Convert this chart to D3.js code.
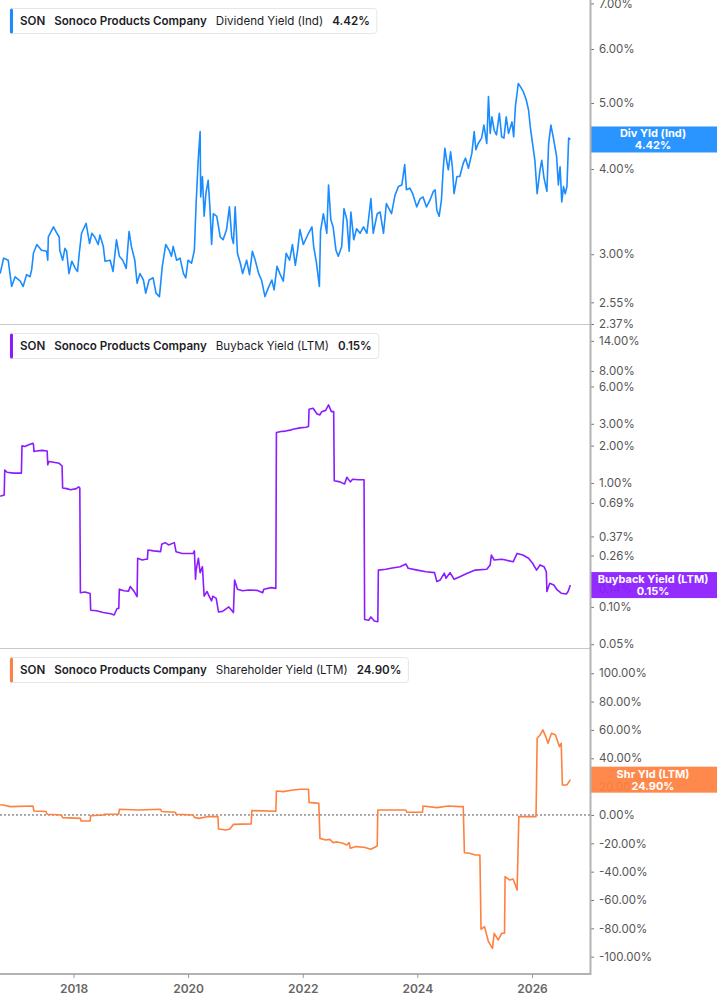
<!DOCTYPE html>
<html>
<head>
<meta charset="utf-8">
<script src="https://cdn.jsdelivr.net/npm/d3@7"></script>
<style>
  body { margin: 0; background: #fff; font-family: Inter, "Noto Sans", sans-serif; }
  svg { display: block; }
</style>
</head>
<body>
<svg id="chart" width="717" height="1005"></svg>
<script>
// values: [decimal year, percent]
const divYield = [
  [2016.72,2.81],[2016.78,2.96],[2016.86,2.94],[2016.92,2.69],[2016.98,2.78],[2017.07,2.74],[2017.12,2.69],
  [2017.18,2.80],[2017.24,2.78],[2017.27,2.85],[2017.30,3.01],[2017.36,3.10],[2017.44,3.04],[2017.53,3.03],
  [2017.55,2.94],[2017.56,3.18],[2017.65,3.29],[2017.71,3.22],[2017.75,3.18],[2017.76,3.04],[2017.81,2.94],
  [2017.85,3.06],[2017.88,3.03],[2017.92,2.81],[2017.97,2.93],[2018.03,2.86],[2018.07,2.83],[2018.10,3.01],
  [2018.14,3.22],[2018.22,3.33],[2018.28,3.11],[2018.32,3.22],[2018.37,3.18],[2018.43,3.10],[2018.46,3.20],
  [2018.52,3.08],[2018.55,2.93],[2018.64,2.94],[2018.69,2.83],[2018.75,3.15],[2018.80,2.98],[2018.86,2.94],
  [2018.92,2.86],[2018.97,3.24],[2019.01,3.08],[2019.07,2.94],[2019.11,2.72],[2019.16,2.81],[2019.22,2.75],
  [2019.26,2.63],[2019.32,2.75],[2019.39,2.77],[2019.44,2.63],[2019.50,2.60],[2019.55,2.88],[2019.61,3.10],
  [2019.67,3.04],[2019.71,2.98],[2019.74,3.08],[2019.80,2.94],[2019.86,2.96],[2019.92,2.81],[2019.96,2.77],
  [2020.00,2.94],[2020.06,2.91],[2020.11,3.04],[2020.14,3.56],[2020.18,4.17],[2020.21,4.54],[2020.22,3.64],
  [2020.25,3.90],[2020.28,3.41],[2020.31,3.68],[2020.35,3.85],[2020.38,3.52],[2020.41,3.10],[2020.44,3.44],
  [2020.50,3.41],[2020.56,3.18],[2020.61,3.15],[2020.67,3.26],[2020.72,3.52],[2020.76,3.18],[2020.79,3.11],
  [2020.82,3.52],[2020.86,3.01],[2020.91,2.91],[2020.95,2.81],[2021.02,2.94],[2021.07,2.80],[2021.12,3.03],
  [2021.17,2.94],[2021.23,2.81],[2021.28,2.75],[2021.34,2.60],[2021.40,2.68],[2021.46,2.75],[2021.50,2.66],
  [2021.55,2.88],[2021.60,2.81],[2021.66,2.74],[2021.71,3.01],[2021.77,2.94],[2021.82,3.10],[2021.87,2.89],
  [2021.91,3.04],[2021.95,3.26],[2022.01,3.10],[2022.10,3.22],[2022.16,3.29],[2022.19,3.08],[2022.24,2.91],
  [2022.29,2.69],[2022.31,3.24],[2022.36,3.44],[2022.42,3.22],[2022.45,3.79],[2022.49,3.37],[2022.53,3.29],
  [2022.58,3.04],[2022.62,2.98],[2022.68,3.08],[2022.72,3.50],[2022.77,3.37],[2022.81,3.03],[2022.84,3.46],
  [2022.89,3.15],[2022.94,3.27],[2023.00,3.22],[2023.06,3.29],[2023.12,3.22],[2023.19,3.62],[2023.23,3.22],
  [2023.30,3.44],[2023.35,3.46],[2023.41,3.22],[2023.46,3.56],[2023.55,3.44],[2023.61,3.66],[2023.67,3.77],
  [2023.73,3.79],[2023.78,4.06],[2023.81,3.73],[2023.87,3.75],[2023.92,3.68],[2023.99,3.52],[2024.05,3.62],
  [2024.10,3.64],[2024.16,3.52],[2024.22,3.60],[2024.28,3.71],[2024.31,3.73],[2024.34,3.48],[2024.38,3.41],
  [2024.42,3.60],[2024.45,3.99],[2024.48,4.29],[2024.51,4.12],[2024.54,3.99],[2024.58,4.24],[2024.61,4.03],
  [2024.64,3.68],[2024.69,3.90],[2024.74,3.90],[2024.80,4.08],[2024.84,4.15],[2024.89,4.01],[2024.95,4.22],
  [2024.99,4.54],[2025.02,4.27],[2025.06,4.36],[2025.12,4.44],[2025.16,4.64],[2025.21,4.36],[2025.24,5.11],
  [2025.27,4.51],[2025.30,4.77],[2025.34,4.56],[2025.38,4.49],[2025.43,4.83],[2025.47,4.46],[2025.51,4.44],
  [2025.55,4.77],[2025.59,4.51],[2025.65,4.69],[2025.68,4.46],[2025.71,4.94],[2025.76,5.34],[2025.80,5.28],
  [2025.85,5.19],[2025.90,5.05],[2025.94,4.88],[2025.97,4.61],[2026.01,4.36],[2026.05,4.12],[2026.09,3.68],
  [2026.14,3.99],[2026.17,4.12],[2026.21,3.88],[2026.26,3.71],[2026.29,4.36],[2026.33,4.64],[2026.37,4.46],
  [2026.40,4.31],[2026.43,4.17],[2026.46,3.79],[2026.49,4.03],[2026.52,3.58],[2026.55,3.77],[2026.58,3.68],
  [2026.61,3.77],[2026.64,4.44],[2026.67,4.42]
];

const buybackYield = [
  [2016.72,0.78],[2016.79,0.80],[2016.80,1.27],[2016.84,1.22],[2016.95,1.20],[2017.09,1.20],[2017.10,1.99],
  [2017.15,1.97],[2017.22,2.03],[2017.29,2.09],[2017.30,2.05],[2017.31,1.79],[2017.35,1.81],[2017.45,1.83],
  [2017.54,1.81],[2017.55,1.40],[2017.57,1.49],[2017.65,1.47],[2017.75,1.44],[2017.80,1.37],[2017.81,0.91],
  [2017.88,0.90],[2017.95,0.88],[2018.05,0.90],[2018.09,0.93],[2018.11,0.91],[2018.12,0.130],[2018.20,0.132],
  [2018.29,0.128],[2018.30,0.094],[2018.40,0.093],[2018.52,0.090],[2018.65,0.088],[2018.71,0.086],[2018.76,0.097],
  [2018.79,0.097],[2018.80,0.139],[2018.88,0.135],[2018.96,0.134],[2018.99,0.146],[2019.06,0.133],[2019.11,0.121],
  [2019.12,0.247],[2019.20,0.239],[2019.26,0.242],[2019.29,0.242],[2019.30,0.288],[2019.40,0.283],[2019.52,0.279],
  [2019.54,0.32],[2019.60,0.33],[2019.66,0.316],[2019.76,0.33],[2019.79,0.279],[2019.90,0.27],[2020.00,0.27],
  [2020.09,0.27],[2020.11,0.283],[2020.13,0.167],[2020.14,0.198],[2020.18,0.247],[2020.21,0.189],[2020.25,0.211],
  [2020.28,0.122],[2020.33,0.133],[2020.37,0.121],[2020.41,0.112],[2020.43,0.122],[2020.49,0.117],[2020.53,0.091],
  [2020.60,0.092],[2020.71,0.100],[2020.79,0.090],[2020.81,0.165],[2020.86,0.139],[2020.95,0.135],[2021.06,0.137],
  [2021.20,0.136],[2021.30,0.130],[2021.32,0.139],[2021.45,0.143],[2021.53,0.141],[2021.54,2.55],[2021.62,2.60],
  [2021.70,2.62],[2021.80,2.68],[2021.83,2.71],[2021.95,2.78],[2022.06,2.81],[2022.10,2.85],[2022.11,3.93],
  [2022.18,4.00],[2022.25,3.60],[2022.30,3.54],[2022.33,3.76],[2022.40,3.85],[2022.45,4.26],[2022.50,3.76],
  [2022.54,3.76],[2022.55,1.04],[2022.65,1.02],[2022.73,0.98],[2022.77,1.11],[2022.83,1.02],[2022.87,1.07],
  [2022.97,1.06],[2023.07,1.06],[2023.08,0.079],[2023.15,0.078],[2023.19,0.083],[2023.25,0.077],[2023.31,0.076],
  [2023.32,0.198],[2023.45,0.201],[2023.54,0.205],[2023.70,0.211],[2023.80,0.222],[2023.84,0.205],[2024.00,0.198],
  [2024.15,0.192],[2024.30,0.189],[2024.34,0.160],[2024.40,0.165],[2024.47,0.187],[2024.50,0.170],[2024.57,0.189],
  [2024.64,0.167],[2024.74,0.175],[2024.87,0.187],[2025.01,0.198],[2025.21,0.201],[2025.27,0.218],[2025.29,0.262],
  [2025.34,0.239],[2025.47,0.242],[2025.54,0.239],[2025.67,0.231],[2025.74,0.270],[2025.84,0.262],[2025.94,0.247],
  [2026.01,0.225],[2026.08,0.198],[2026.14,0.218],[2026.21,0.211],[2026.25,0.192],[2026.26,0.133],[2026.31,0.155],
  [2026.38,0.150],[2026.44,0.137],[2026.51,0.129],[2026.60,0.127],[2026.63,0.133],[2026.67,0.150]
];

const shareholderYield = [
  [2016.72,7.0],[2016.78,7.0],[2016.89,5.9],[2017.29,6.3],[2017.31,2.8],[2017.52,2.4],[2017.54,0.5],[2017.79,0.0],
  [2017.81,-1.9],[2018.12,-2.4],[2018.13,-4.2],[2018.29,-4.2],[2018.30,-0.5],[2018.52,0.0],[2018.54,0.5],
  [2018.79,0.5],[2018.80,4.0],[2019.12,3.5],[2019.52,4.0],[2019.54,2.4],[2019.78,1.9],[2019.79,0.5],[2020.09,0.0],
  [2020.11,-1.7],[2020.19,-2.4],[2020.33,-1.2],[2020.52,-1.2],[2020.53,-9.9],[2020.66,-10.6],[2020.73,-9.9],
  [2020.79,-6.6],[2021.10,-6.3],[2021.11,3.1],[2021.53,2.6],[2021.54,16.9],[2021.66,16.5],[2021.80,17.4],
  [2021.96,18.1],[2022.10,18.1],[2022.11,8.9],[2022.28,8.2],[2022.30,-16.5],[2022.40,-17.6],[2022.47,-17.2],
  [2022.53,-19.5],[2022.60,-19.0],[2022.70,-20.0],[2022.77,-21.2],[2022.81,-19.5],[2022.83,-23.5],[2022.93,-22.3],
  [2023.07,-22.8],[2023.19,-24.2],[2023.30,-21.9],[2023.31,3.5],[2023.80,3.5],[2023.82,1.9],[2024.09,1.9],
  [2024.10,6.3],[2024.34,5.2],[2024.54,6.3],[2024.74,5.9],[2024.80,5.9],[2024.82,-26.6],[2024.91,-27.0],
  [2025.01,-28.2],[2025.09,-28.2],[2025.11,-80.7],[2025.17,-78.8],[2025.24,-89.4],[2025.31,-94.1],[2025.34,-83.5],
  [2025.41,-88.2],[2025.47,-83.5],[2025.52,-83.5],[2025.53,-43.5],[2025.61,-45.9],[2025.67,-45.2],[2025.74,-52.9],
  [2025.77,-1.2],[2026.07,-1.2],[2026.09,54.1],[2026.14,56.4],[2026.19,60.0],[2026.24,55.3],[2026.28,50.6],
  [2026.34,57.6],[2026.41,56.4],[2026.48,48.2],[2026.51,50.6],[2026.53,21.2],[2026.61,21.2],[2026.67,24.9]
];

const divTicks = [2.37, 2.55, 3, 4, 5, 6, 7];
const buybackTicks = [0.05, 0.10, 0.14, 0.26, 0.37, 0.69, 1, 2, 3, 6, 8, 14];
const shareholderTicks = [-100, -80, -60, -40, -20, 0, 20, 40, 60, 80, 100];
const yearTicks = [2018, 2020, 2022, 2024, 2026];

const ticker = 'SON';
const company = 'Sonoco Products Company';
const metricNames = ['Dividend Yield (Ind)', 'Buyback Yield (LTM)', 'Shareholder Yield (LTM)'];
const shortNames = ['Div Yld (Ind)', 'Buyback Yield (LTM)', 'Shr Yld (LTM)'];
const lastValues = [4.42, 0.15, 24.90];

function toDate(y) {
  const yr = Math.floor(y);
  const a = new Date(yr, 0, 1), b = new Date(yr + 1, 0, 1);
  return new Date(+a + (y - yr) * (b - a));
}

const W = 717, axisX = 590, bottomY = 974;
const svg = d3.select('#chart');

const x = d3.scaleTime()
  .domain([toDate(2016.717), toDate(2027.03)])
  .range([0, 591]);

const fmt = d => d.toFixed(2) + '%';

const panels = [
  {data: divYield, ticks: divTicks, color: '#1a8cff', top: 0, bottom: 324,
   y: d3.scaleLog().domain([2.37, 7.08]).range([324, 0])},
  {data: buybackYield, ticks: buybackTicks, color: '#8a1cff', top: 325, bottom: 648,
   y: d3.scaleLog().domain([0.0466, 18.8]).range([648, 325])},
  {data: shareholderYield, ticks: shareholderTicks, color: '#ff8040', top: 649, bottom: 974,
   y: d3.scaleLinear().domain([-112.2, 117.1]).range([974, 649])}
];

panels.forEach((p, i) => {
  const g = svg.append('g');

  // separator under the panel
  if (i < 2) {
    g.append('line')
      .attr('x1', 0).attr('x2', axisX)
      .attr('y1', p.bottom + 0.5).attr('y2', p.bottom + 0.5)
      .attr('stroke', '#c8c8c8');
  }

  if (i === 2) {
    g.append('line')
      .attr('x1', 0).attr('x2', axisX)
      .attr('y1', p.y(0)).attr('y2', p.y(0))
      .attr('stroke', '#555')
      .attr('stroke-dasharray', '2,2');
  }

  svg.append('clipPath').attr('id', 'clip' + i)
    .append('rect').attr('x', 0).attr('y', p.top).attr('width', axisX).attr('height', p.bottom - p.top);

  const line = d3.line()
    .x(d => x(toDate(d[0])))
    .y(d => p.y(d[1]));

  g.append('path')
    .datum(p.data)
    .attr('clip-path', 'url(#clip' + i + ')')
    .attr('fill', 'none')
    .attr('stroke', p.color)
    .attr('stroke-width', 1.6)
    .attr('stroke-linejoin', 'round')
    .attr('d', line);

  // right axis
  const ax = g.append('g')
    .attr('transform', `translate(${axisX},0)`)
    .call(d3.axisRight(p.y).tickValues(p.ticks).tickSize(4).tickPadding(5).tickFormat(fmt));
  ax.select('.domain').remove();
  ax.selectAll('line').attr('stroke', '#777');
  ax.selectAll('text')
    .attr('fill', '#555')
    .style('font-family', 'Inter, sans-serif')
    .style('font-size', '11.5px');

  // value tag on the axis
  const ty = p.y(lastValues[i]);
  g.append('rect')
    .attr('x', axisX + 1).attr('y', ty - 13)
    .attr('width', W - axisX - 1).attr('height', 26)
    .attr('fill', p.color).attr('fill-opacity', 0.93);
  g.append('text')
    .attr('x', 653).attr('y', ty - 2)
    .attr('text-anchor', 'middle')
    .attr('fill', '#fff').attr('font-size', 11).attr('font-weight', 700)
    .text(shortNames[i]);
  g.append('text')
    .attr('x', 653).attr('y', ty + 10)
    .attr('text-anchor', 'middle')
    .attr('fill', '#fff').attr('font-size', 11).attr('font-weight', 700)
    .text(fmt(lastValues[i]));

  // legend box
  const lg = svg.append('g').attr('transform', `translate(10,${p.top + 8.5})`);
  const box = lg.append('rect')
    .attr('x', 0).attr('y', 0).attr('height', 25).attr('rx', 3)
    .attr('fill', '#fff').attr('stroke', '#e6e6e6');
  lg.append('rect')
    .attr('x', 0).attr('y', 0).attr('width', 3).attr('height', 25).attr('rx', 1.5)
    .attr('fill', p.color);
  const parts = [
    {t: ticker, w: 600},
    {t: company, w: 600},
    {t: metricNames[i], w: 400},
    {t: fmt(lastValues[i]), w: 600}
  ];
  let cx = 10;
  parts.forEach((part, k) => {
    const t = lg.append('text')
      .attr('x', cx).attr('y', 16.5)
      .attr('fill', '#1d1d28')
      .attr('font-size', 11.6)
      .attr('font-weight', part.w)
      .text(part.t);
    cx += t.node().getComputedTextLength() + (k === parts.length - 1 ? 7 : 9);
  });
  box.attr('width', cx);
});

// frame
svg.append('line')
  .attr('x1', axisX + 0.5).attr('x2', axisX + 0.5)
  .attr('y1', 0).attr('y2', bottomY + 1)
  .attr('stroke', '#b3b3b3').attr('stroke-width', 2);
svg.append('line')
  .attr('x1', 0).attr('x2', axisX + 1)
  .attr('y1', bottomY).attr('y2', bottomY)
  .attr('stroke', '#b3b3b3').attr('stroke-width', 2);

const xa = svg.append('g')
  .attr('transform', `translate(0,${bottomY})`)
  .call(d3.axisBottom(x).tickValues(yearTicks.map(y => new Date(y, 0, 1)))
    .tickSize(4).tickPadding(6).tickFormat(d3.timeFormat('%Y')));
xa.select('.domain').remove();
xa.selectAll('line').attr('stroke', '#999');
xa.selectAll('text')
  .attr('fill', '#666')
  .style('font-family', 'Inter, sans-serif')
  .style('font-size', '12px')
  .style('font-weight', 600);
</script>
</body>
</html>
